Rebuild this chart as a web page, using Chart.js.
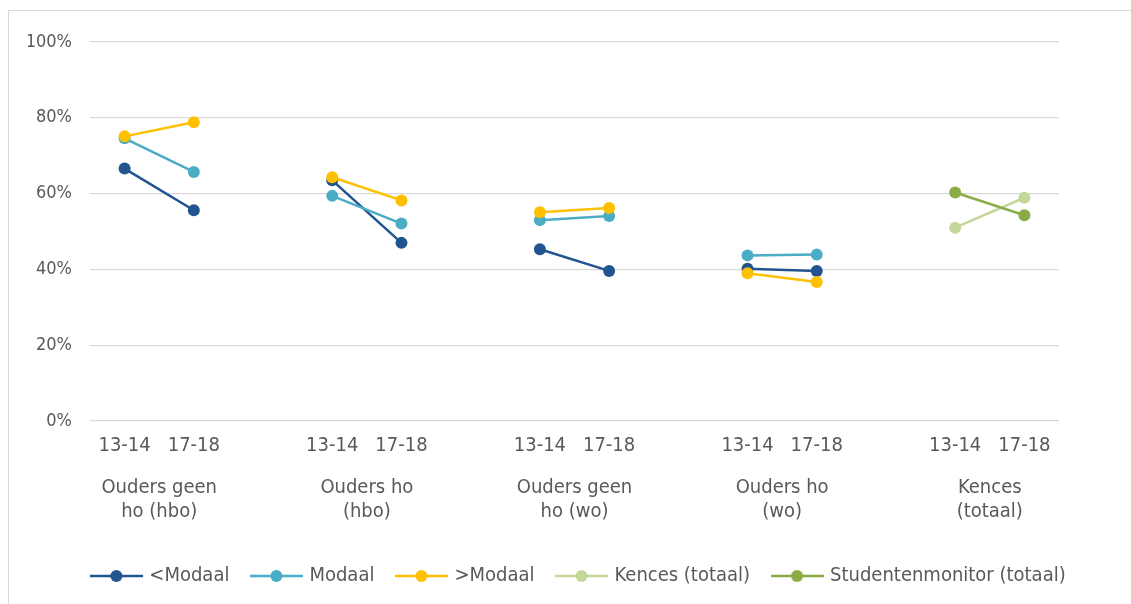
<!DOCTYPE html>
<html>
<head>
<meta charset="utf-8">
<script src="https://cdn.jsdelivr.net/npm/chart.js@4"></script>
<style>
  html, body { margin: 0; padding: 0; background: #fff; }
  #wrap { position: relative; width: 1131px; height: 604px; overflow: hidden; }
  #frame { position: absolute; left: 8px; top: 10px; width: 1200px; height: 700px; border: 1px solid #d9d9d9; }
  canvas { position: absolute; left: 0; top: 0; }
</style>
</head>
<body>
<div id="wrap">
  <div id="frame"></div>
  <canvas id="chart" width="1131" height="604"></canvas>
</div>
<script>
// x categories: two periods per group, empty slot between groups
const periods = ['13-14', '17-18', '', '13-14', '17-18', '', '13-14', '17-18', '', '13-14', '17-18', '', '13-14', '17-18'];
const groups = [
  ['Ouders geen', 'ho (hbo)'],
  ['Ouders ho', '(hbo)'],
  ['Ouders geen', 'ho (wo)'],
  ['Ouders ho', '(wo)'],
  ['Kences', '(totaal)']
];
const yTicks = [0, 20, 40, 60, 80, 100];

const belowModaal = [66.6, 55.6, null, 63.5, 47.0, null, 45.3, 39.6, null, 40.2, 39.6, null, null, null];
const modaal      = [74.6, 65.7, null, 59.4, 52.1, null, 53.0, 54.1, null, 43.7, 43.9, null, null, null];
const aboveModaal = [75.1, 78.8, null, 64.3, 58.2, null, 55.1, 56.2, null, 39.0, 36.7, null, null, null];
const kences      = [null, null, null, null, null, null, null, null, null, null, null, null, 51.0, 58.9];
const studentenmonitor = [null, null, null, null, null, null, null, null, null, null, null, null, 60.3, 54.3];

const seriesNames = ['<Modaal', 'Modaal', '>Modaal', 'Kences (totaal)', 'Studentenmonitor (totaal)'];
const seriesData = [belowModaal, modaal, aboveModaal, kences, studentenmonitor];
const colours = ['#22548f', '#4bacc6', '#ffc000', '#c4d79b', '#8bab47'];

const font = '"DejaVu Sans Condensed", "DejaVu Sans", sans-serif';
const textColour = '#595959';

// legend marker: short line with a dot in the middle
function marker(colour) {
  const c = document.createElement('canvas');
  c.width = 53; c.height = 14;
  const g = c.getContext('2d');
  g.strokeStyle = colour;
  g.lineWidth = 2.5;
  g.beginPath(); g.moveTo(0, 7); g.lineTo(53, 7); g.stroke();
  g.fillStyle = colour;
  g.beginPath(); g.arc(26.5, 7, 6, 0, Math.PI * 2); g.fill();
  return c;
}

const datasets = seriesNames.map((name, i) => ({
  label: name,
  data: seriesData[i],
  borderColor: colours[i],
  backgroundColor: colours[i],
  pointBackgroundColor: colours[i],
  pointBorderColor: colours[i],
  pointRadius: 6,
  pointBorderWidth: 0,
  borderWidth: 2.5,
  tension: 0,
  spanGaps: false,
  order: seriesNames.length - i
}));

new Chart(document.getElementById('chart').getContext('2d'), {
  type: 'line',
  data: { labels: periods, datasets: datasets },
  options: {
    responsive: false,
    animation: false,
    devicePixelRatio: 1,
    layout: { padding: { top: 42, right: 0, left: 28, bottom: 8 } },
    scales: {
      x: {
        type: 'category',
        offset: true,
        weight: 0,
        grid: { display: false, drawTicks: false },
        border: { display: false },
        ticks: { padding: 13, color: textColour, font: { family: font, size: 20 }, autoSkip: false, maxRotation: 0 },
        afterFit: s => { s.height = 50; }
      },
      x2: {
        type: 'linear',
        position: 'bottom',
        min: -0.5,
        max: periods.length - 0.5,
        weight: 1,
        grid: { display: false, drawTicks: false },
        border: { display: false },
        afterBuildTicks: s => { s.ticks = groups.map((g, i) => ({ value: i * 3 + 0.5 })); },
        ticks: {
          padding: 5, color: textColour, font: { family: font, size: 20, lineHeight: 1.2 },
          autoSkip: false, maxRotation: 0,
          callback: (v, i) => groups[i]
        },
        afterFit: s => { s.height = 71; }
      },
      y: {
        min: 0,
        max: 100,
        afterBuildTicks: s => { s.ticks = yTicks.map(v => ({ value: v })); },
        grid: { color: '#d9d9d9', lineWidth: 1.3, drawTicks: false },
        border: { display: false },
        ticks: { padding: 18, color: textColour, font: { family: font, size: 18 }, callback: v => v + '%' },
        afterFit: s => { s.width = 62; }
      },
      // empty right-hand axis, only reserves the margin right of the plot
      yRight: {
        position: 'right',
        min: 0,
        max: 100,
        grid: { display: false, drawTicks: false },
        border: { display: false },
        ticks: { display: false },
        afterFit: s => { s.width = 72; }
      }
    },
    plugins: {
      tooltip: { enabled: false },
      title: { display: false },
      legend: {
        position: 'bottom',
        labels: {
          usePointStyle: true,
          pointStyleWidth: 46,
          padding: 24,
          color: textColour,
          font: { family: font, size: 20 },
          sort: (a, b) => a.datasetIndex - b.datasetIndex,
          generateLabels: chart => Chart.defaults.plugins.legend.labels.generateLabels(chart).map(l => {
            l.pointStyle = marker(colours[l.datasetIndex]);
            return l;
          })
        }
      }
    }
  }
});
</script>
</body>
</html>
